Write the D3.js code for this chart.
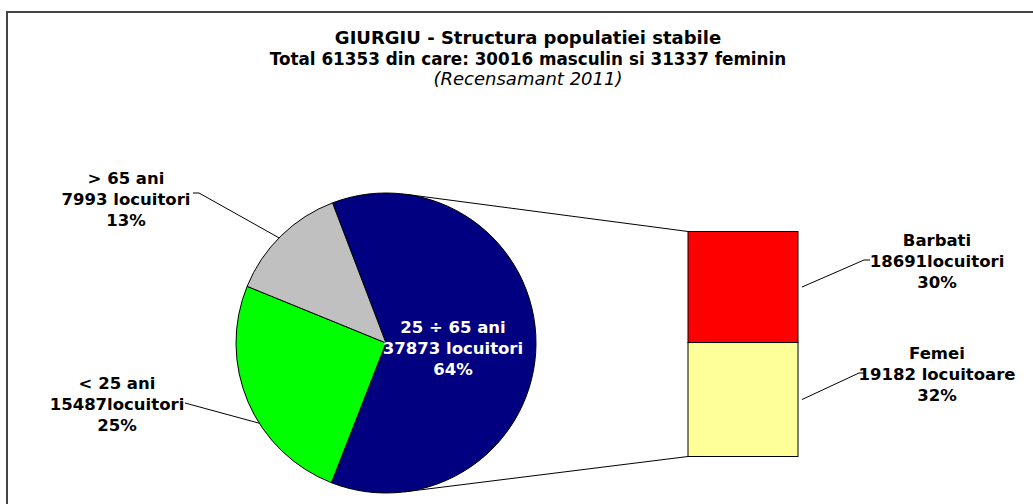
<!DOCTYPE html>
<html lang="ro">
<head>
<meta charset="utf-8">
<title>GIURGIU - Structura populatiei stabile</title>
<script src="https://d3js.org/d3.v7.min.js"></script>
<style>
  body { margin: 0; background: #fff; }
  svg text { font-family: "DejaVu Sans", Verdana, sans-serif; }
</style>
</head>
<body>
<svg width="1033" height="504"></svg>
<script>
// date
var varste = ["25 ÷ 65 ani", "< 25 ani", "> 65 ani"];
var locuitori = [37873, 15487, 7993];
var procente = ["64%", "25%", "13%"];
var culoriPie = ["#000080", "#00ff00", "#c0c0c0"];

var sexe = ["Barbati", "Femei"];
var valoriSexe = [18691, 19182];
var unitati = ["18691locuitori", "19182 locuitoare"];
var procenteSexe = ["30%", "32%"];
var culoriBar = ["#ff0000", "#ffff99"];

var titlu = ["GIURGIU - Structura populatiei stabile",
             "Total 61353 din care: 30016 masculin si 31337 feminin",
             "(Recensamant 2011)"];

var svg = d3.select("svg");

// chenar
svg.append("rect")
    .attr("x", 7).attr("y", 12)
    .attr("width", 1040).attr("height", 520)
    .attr("fill", "#fff")
    .attr("stroke", "#444").attr("stroke-width", 2);

// titlu
svg.selectAll(".titlu")
    .data(titlu)
    .enter()
    .append("text")
    .attr("x", 528)
    .attr("y", function(d, i) { return 44 + i * 20.5; })
    .attr("text-anchor", "middle")
    .attr("font-size", function(d, i) { return i == 1 ? 16.8 : 18; })
    .attr("font-weight", function(d, i) { return i < 2 ? "bold" : "normal"; })
    .attr("font-style", function(d, i) { return i == 2 ? "italic" : "normal"; })
    .text(function(d) { return d; });

// pie
var cx = 386, cy = 343, r = 150;
var start = -20.9 * Math.PI / 180;
var pie = d3.pie().sort(null).startAngle(start).endAngle(start + 2 * Math.PI);
var arc = d3.arc().innerRadius(0).outerRadius(r);
var pieData = pie(locuitori);

// bara (bar of pie)
var barX = 688, barW = 110;
var y = d3.scaleLinear()
    .domain([0, d3.sum(valoriSexe)])
    .range([231.5, 456.5]);
var stack = [];
var acc = 0;
valoriSexe.forEach(function(v, i) {
    stack.push({ y0: acc, y1: acc + v, i: i });
    acc += v;
});

// liniile de legatura, tangente la cerc
function tangenta(px, py, sus) {
    var dx = px - cx, dy = py - cy;
    var d = Math.sqrt(dx * dx + dy * dy);
    var a = Math.atan2(dy, dx) + (sus ? -1 : 1) * Math.acos(r / d);
    return [cx + r * Math.cos(a), cy + r * Math.sin(a)];
}
var t1 = tangenta(barX, y(0), true);
var t2 = tangenta(barX, y(acc), false);
svg.append("line")
    .attr("x1", t1[0]).attr("y1", t1[1]).attr("x2", barX).attr("y2", y(0))
    .attr("stroke", "#000").attr("stroke-width", 1);
svg.append("line")
    .attr("x1", t2[0]).attr("y1", t2[1]).attr("x2", barX).attr("y2", y(acc))
    .attr("stroke", "#000").attr("stroke-width", 1);

var g = svg.append("g")
    .attr("transform", "translate(" + cx + "," + cy + ")");
g.selectAll("path")
    .data(pieData)
    .enter()
    .append("path")
    .attr("d", arc)
    .attr("fill", function(d, i) { return culoriPie[i]; })
    .attr("stroke", "#000")
    .attr("stroke-width", 1);

svg.selectAll(".bar")
    .data(stack)
    .enter()
    .append("rect")
    .attr("x", barX)
    .attr("y", function(d) { return y(d.y0); })
    .attr("width", barW)
    .attr("height", function(d) { return y(d.y1) - y(d.y0); })
    .attr("fill", function(d) { return culoriBar[d.i]; })
    .attr("stroke", "#000")
    .attr("stroke-width", 1);

// etichete
function eticheta(x, y0, linii, culoare) {
    var t = svg.append("text")
        .attr("text-anchor", "middle")
        .attr("font-size", 16.5)
        .attr("font-weight", "bold")
        .attr("fill", culoare);
    linii.forEach(function(l, i) {
        t.append("tspan").attr("x", x).attr("y", y0 + i * 21).text(l);
    });
}
function leader(pts) {
    svg.append("polyline")
        .attr("points", pts.map(function(p) { return p.join(","); }).join(" "))
        .attr("fill", "none").attr("stroke", "#000").attr("stroke-width", 1);
}

// 25 ÷ 65 (in interior)
eticheta(453, 333, [varste[0], locuitori[0] + " locuitori", procente[0]], "#fff");

// > 65
eticheta(126, 184, [varste[2], locuitori[2] + " locuitori", procente[2]], "#000");
var a2 = (pieData[2].startAngle + pieData[2].endAngle) / 2;
leader([[193, 193], [199, 193], [cx + r * Math.sin(a2 - 0.02), cy - r * Math.cos(a2 - 0.02)]]);

// < 25
eticheta(117, 389, [varste[1], locuitori[1] + "locuitori", procente[1]], "#000");
var a1 = pieData[1].startAngle + (pieData[1].endAngle - pieData[1].startAngle) * 0.4;
leader([[185, 403], [cx + r * Math.sin(a1), cy - r * Math.cos(a1)]]);

// Barbati / Femei
stack.forEach(function(d, i) {
    var ly = [246, 359][i];
    eticheta(937, ly, [sexe[i], unitati[i], procenteSexe[i]], "#000");
    var ym = (y(d.y0) + y(d.y1)) / 2;
    leader([[barX + barW + 4, ym], [[864, 859][i], ly + 14], [[870, 865][i], ly + 14]]);
});
</script>
</body>
</html>
